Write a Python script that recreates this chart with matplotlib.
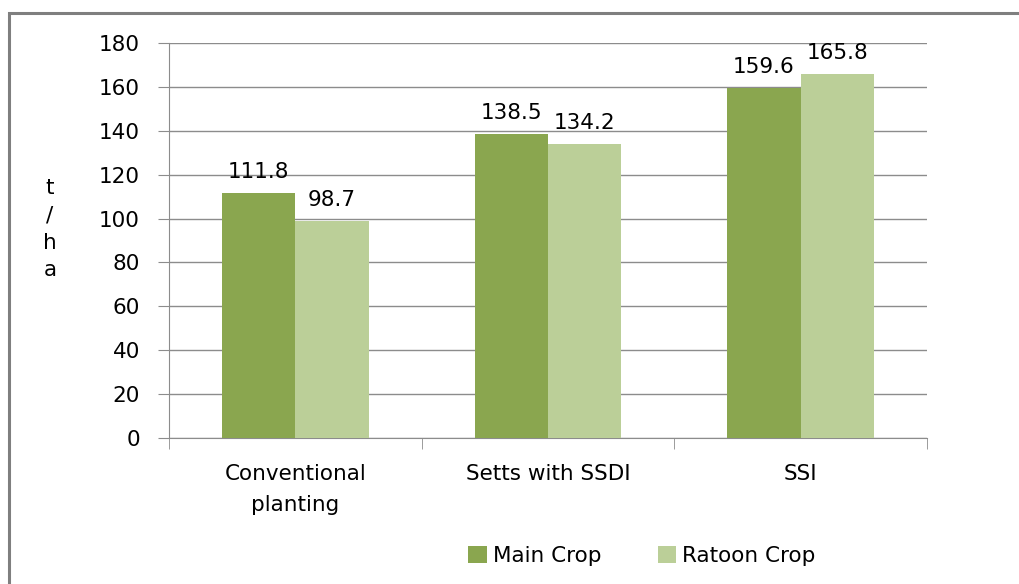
import numpy as np
import matplotlib.pyplot as plt
from matplotlib.patches import Rectangle

categories = ['Conventional\nplanting', 'Setts with SSDI', 'SSI']
main_crop = [111.8, 138.5, 159.6]
ratoon_crop = [98.7, 134.2, 165.8]

main_color = '#8aa64f'
ratoon_color = '#bbcf98'
grid_color = '#8c8c8c'

plt.rcParams['font.family'] = ['DejaVu Sans']
fs = 15.5

fig = plt.figure(figsize=(10.2, 5.84), dpi=100)
ax = fig.add_axes([169 / 1020, 1 - 438 / 584, (927 - 169) / 1020, (438 - 43) / 584])

# outer chart border (clipped at right and bottom as in the original)
fig.patches.append(Rectangle((9 / 1020, -0.1), 1.2, 1 - 13 / 584 + 0.1,
                             transform=fig.transFigure, fill=False,
                             edgecolor='#7f7f7f', linewidth=2.2))

x = np.arange(len(categories))
w = 0.29
b1 = ax.bar(x - w / 2, main_crop, w, color=main_color, label='Main Crop', zorder=3)
b2 = ax.bar(x + w / 2, ratoon_crop, w, color=ratoon_color, label='Ratoon Crop', zorder=3)

for bars, vals in [(b1, main_crop), (b2, ratoon_crop)]:
    for r, v in zip(bars, vals):
        ax.text(r.get_x() + r.get_width() / 2, v + 5, f'{v:.1f}',
                ha='center', va='bottom', fontsize=fs, color='#000000')

ax.set_xlim(-0.5, 2.5)
ax.set_ylim(0, 180)
ax.set_yticks(np.arange(0, 181, 20))
ax.yaxis.grid(True, color=grid_color, linewidth=1)
ax.set_axisbelow(True)

ax.set_xticks(x)
ax.set_xticklabels(categories, fontsize=fs, linespacing=1.65)
ax.tick_params(axis='x', length=0, pad=19)
ax.set_xticks([-0.5, 0.5, 1.5, 2.5], minor=True)
ax.tick_params(axis='x', which='minor', length=8, color=grid_color, direction='out')
ax.tick_params(axis='y', length=8, color=grid_color, labelsize=fs, pad=13)

for s in ['top', 'right']:
    ax.spines[s].set_visible(False)
for s in ['left', 'bottom']:
    ax.spines[s].set_color(grid_color)

fig.text(50 / 1020, 1 - 229 / 584, 't\n/\nh\na', ha='center', va='center',
         fontsize=fs, linespacing=1.45)

fig.legend(handles=[b1, b2], loc='center', bbox_to_anchor=(642 / 1020, 1 - 556 / 584),
           ncol=2, frameon=False, fontsize=fs, handlelength=0.85, handleheight=0.85,
           handletextpad=0.3, columnspacing=2.6)

fig.savefig('out.png', dpi=100)
